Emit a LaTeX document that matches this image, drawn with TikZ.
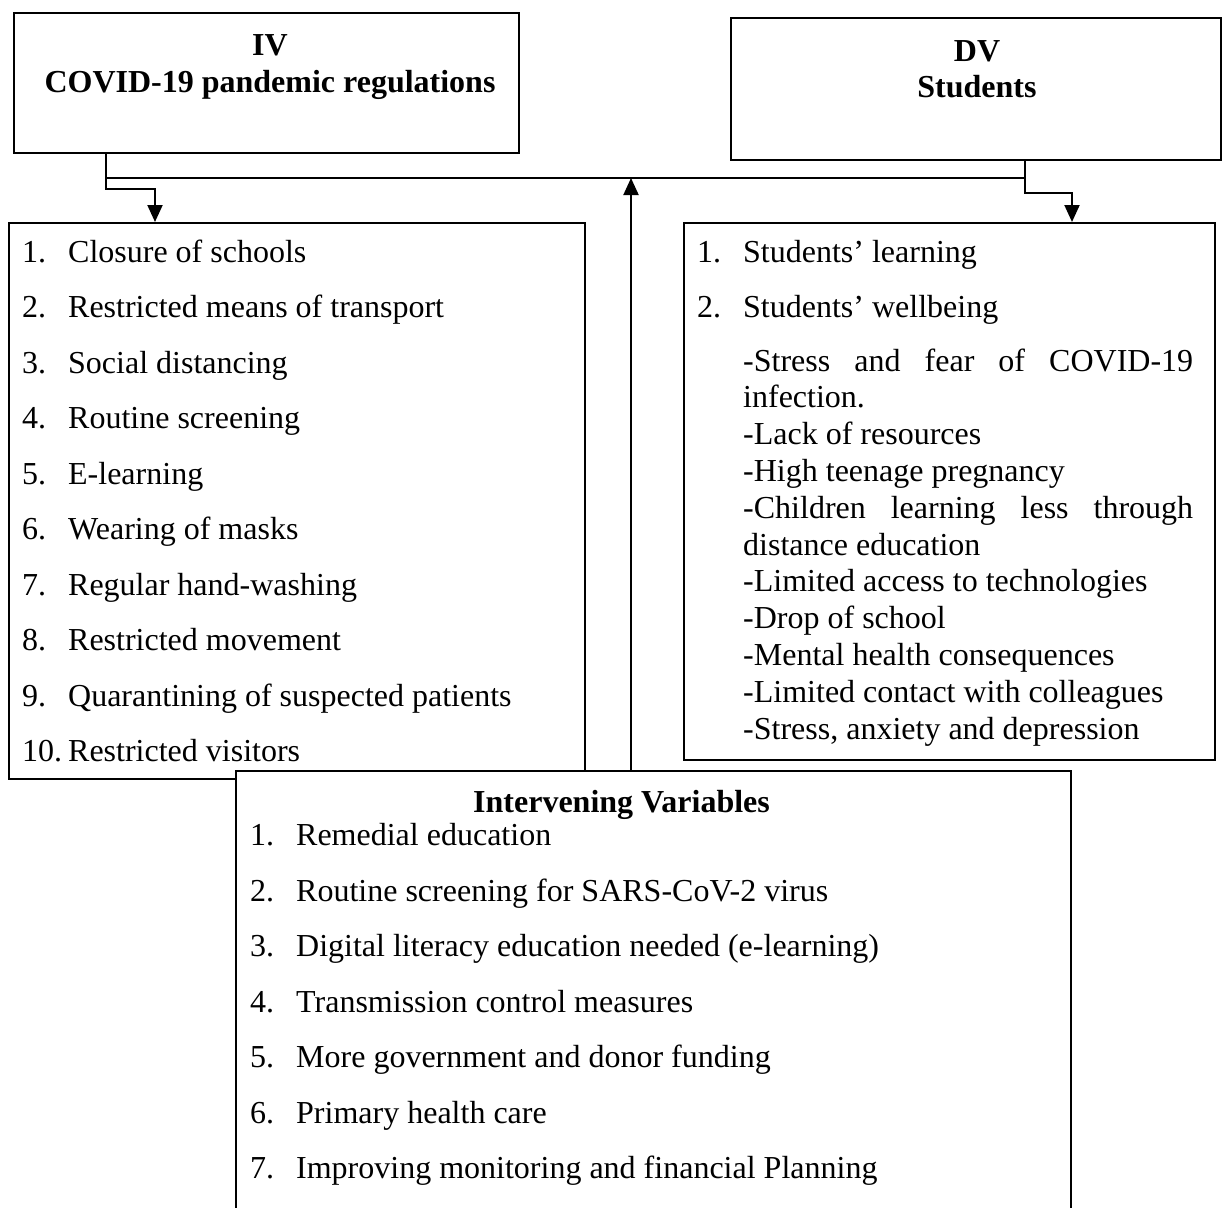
\documentclass[tikz,border=0pt]{standalone}
\usepackage{fontspec}
\setmainfont{Liberation Serif}
\usetikzlibrary{arrows.meta}

\begin{document}
\begin{tikzpicture}[x=1pt,y=-1pt,>={Triangle[length=17pt,width=15pt]},
  box/.style={rectangle,draw,line width=2pt,inner sep=0pt},
  txt/.style={inner sep=0pt,anchor=base west,font=\fontsize{32}{36.8}\selectfont},
  hd/.style={inner sep=0pt,anchor=base,font=\fontsize{32}{36.8}\selectfont\bfseries},
  link/.style={line width=2pt}]
  \useasboundingbox (0,0) rectangle (1230,1207);
  \clip (0,0) rectangle (1230,1207);
  % boxes
  \node[box,minimum width=505pt,minimum height=140pt] (iv) at (266.5,83) {};
  \node[box,minimum width=490pt,minimum height=142pt] (dv) at (976,89) {};
  \node[box,minimum width=576pt,minimum height=556pt] (regs) at (297,501) {};
  \node[box,minimum width=531pt,minimum height=537pt] (effects) at (949.5,491.5) {};
  \node[box,fill=white,minimum width=835pt,minimum height=469pt] (inter) at (653.5,1005.5) {};
  % headings
  \node[hd] (ivA) at (270,56) {IV};
  \node[hd] (ivB) at (270,92.5) {COVID-19 pandemic regulations};
  \node[hd] (dvA) at (977,61) {DV};
  \node[hd] (dvB) at (977,97) {Students};
  \node[hd] (interT) at (621.5,812) {Intervening Variables};
  % connectors
  \coordinate (ivfoot) at ([xshift=-160.5pt]iv.south);
  \coordinate (dvfoot) at ([xshift=49pt]dv.south);
  \coordinate (busL) at ([yshift=-24pt]ivfoot);
  \coordinate (feed) at ([xshift=-22.5pt]inter.north);
  \draw[link] (busL) -- (busL -| dvfoot);
  \draw[link,->] (ivfoot) -- ++(0,35) -| ([xshift=-142pt]regs.north);
  \draw[link,->] (dvfoot) -- ++(0,32) -| ([xshift=122.5pt]effects.north);
  \draw[link,->] (feed) -- (feed |- busL);
  % lists
  \foreach \t [count=\k] in {Closure of schools,Restricted means of transport,
      Social distancing,Routine screening,E-learning,Wearing of masks,
      Regular hand-washing,Restricted movement,Quarantining of suspected patients,
      Restricted visitors}
    \node[txt] (reg\k) at (22,{262+55.5*(\k-1)}) {\makebox[46pt][l]{\k.}\t};
  \node[txt] (eff1) at (697,262) {\makebox[46pt][l]{1.}Students' learning};
  \node[txt] (eff2) at (697,317.5) {\makebox[46pt][l]{2.}Students' wellbeing};
  \foreach \t [count=\k] in {{\makebox[450pt][s]{-Stress and fear of COVID-19}},
      infection.,-Lack of resources,-High teenage pregnancy,
      {\makebox[450pt][s]{-Children learning less through}},distance education,
      -Limited access to technologies,-Drop of school,-Mental health consequences,
      -Limited contact with colleagues,{-Stress, anxiety and depression}}
    \node[txt] (eff\k b) at (743,{371+36.8*(\k-1)}) {\t};
  \foreach \t [count=\k] in {Remedial education,Routine screening for SARS-CoV-2 virus,
      Digital literacy education needed (e-learning),Transmission control measures,
      More government and donor funding,Primary health care,
      Improving monitoring and financial Planning}
    \node[txt] (int\k) at (250,{845.5+55.5*(\k-1)}) {\makebox[46pt][l]{\k.}\t};
\end{tikzpicture}
\end{document}
